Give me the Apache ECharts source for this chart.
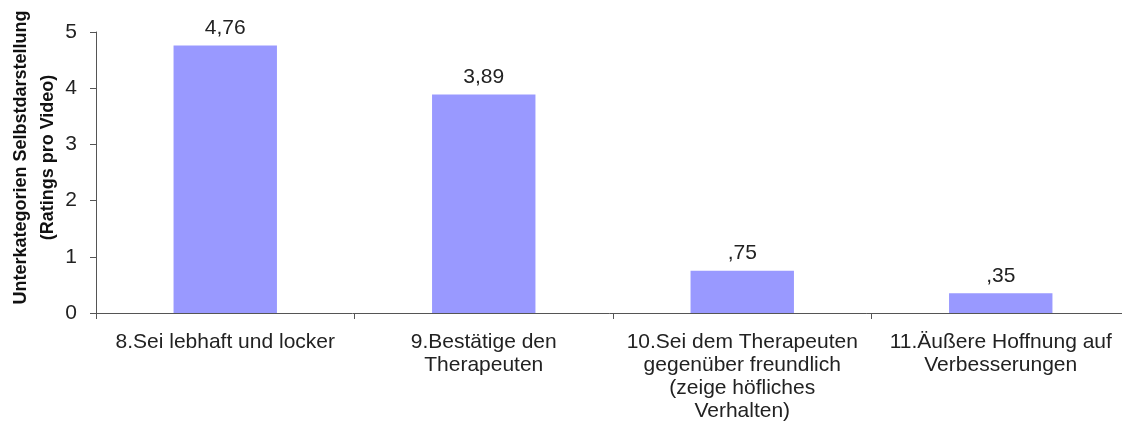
<!DOCTYPE html>
<html>
<head>
<meta charset="utf-8">
<script src="https://cdn.jsdelivr.net/npm/echarts@6/dist/echarts.min.js"></script>
<style>
  html, body { margin: 0; padding: 0; background: #fff; }
  #main { width: 1122px; height: 427px; }
</style>
</head>
<body>
<div id="main"></div>
<script>
var categories = [
  "8.Sei lebhaft und locker",
  "9.Bestätige den\nTherapeuten",
  "10.Sei dem Therapeuten\ngegenüber freundlich\n(zeige höfliches\nVerhalten)",
  "11.Äußere Hoffnung auf\nVerbesserungen"
];
var values = [4.76, 3.89, 0.75, 0.35];
var valueLabels = ["4,76", "3,89", ",75", ",35"];

var chart = echarts.init(document.getElementById("main"));

var option = {
  animation: false,
  textStyle: { fontFamily: "Liberation Sans, Arial, sans-serif" },
  grid: { left: 96, width: 1034, top: 32, bottom: 114, outerBoundsMode: "none", containLabel: false },
  xAxis: {
    type: "category",
    data: categories,
    axisLine: { lineStyle: { color: "#555", width: 1 } },
    axisTick: { show: true, length: 6, lineStyle: { color: "#555" } },
    axisLabel: {
      color: "#222",
      fontSize: 21,
      lineHeight: 23,
      margin: 18,
      interval: 0
    }
  },
  yAxis: {
    type: "value",
    min: 0,
    max: 5,
    interval: 1,
    name: "Unterkategorien Selbstdarstellung\n(Ratings pro Video)",
    nameLocation: "middle",
    nameGap: 34,
    nameMoveOverlap: false,
    nameRotate: 90,
    nameTextStyle: {
      color: "#111",
      fontSize: 18,
      fontWeight: "bold",
      lineHeight: 27,
      padding: [0, 0, 0, 30]
    },
    axisLine: { show: true, lineStyle: { color: "#555" } },
    axisTick: { show: true, length: 6, lineStyle: { color: "#555" } },
    axisLabel: { color: "#222", fontSize: 21, margin: 19 },
    splitLine: { show: false }
  },
  series: [
    {
      type: "bar",
      data: values,
      barWidth: "40%",
      itemStyle: { color: "#9999ff" },
      label: {
        show: true,
        position: "top",
        distance: 7,
        color: "#222",
        fontSize: 21,
        formatter: function (p) {
          return valueLabels[p.dataIndex];
        }
      }
    }
  ]
};

chart.setOption(option);
</script>
</body>
</html>
